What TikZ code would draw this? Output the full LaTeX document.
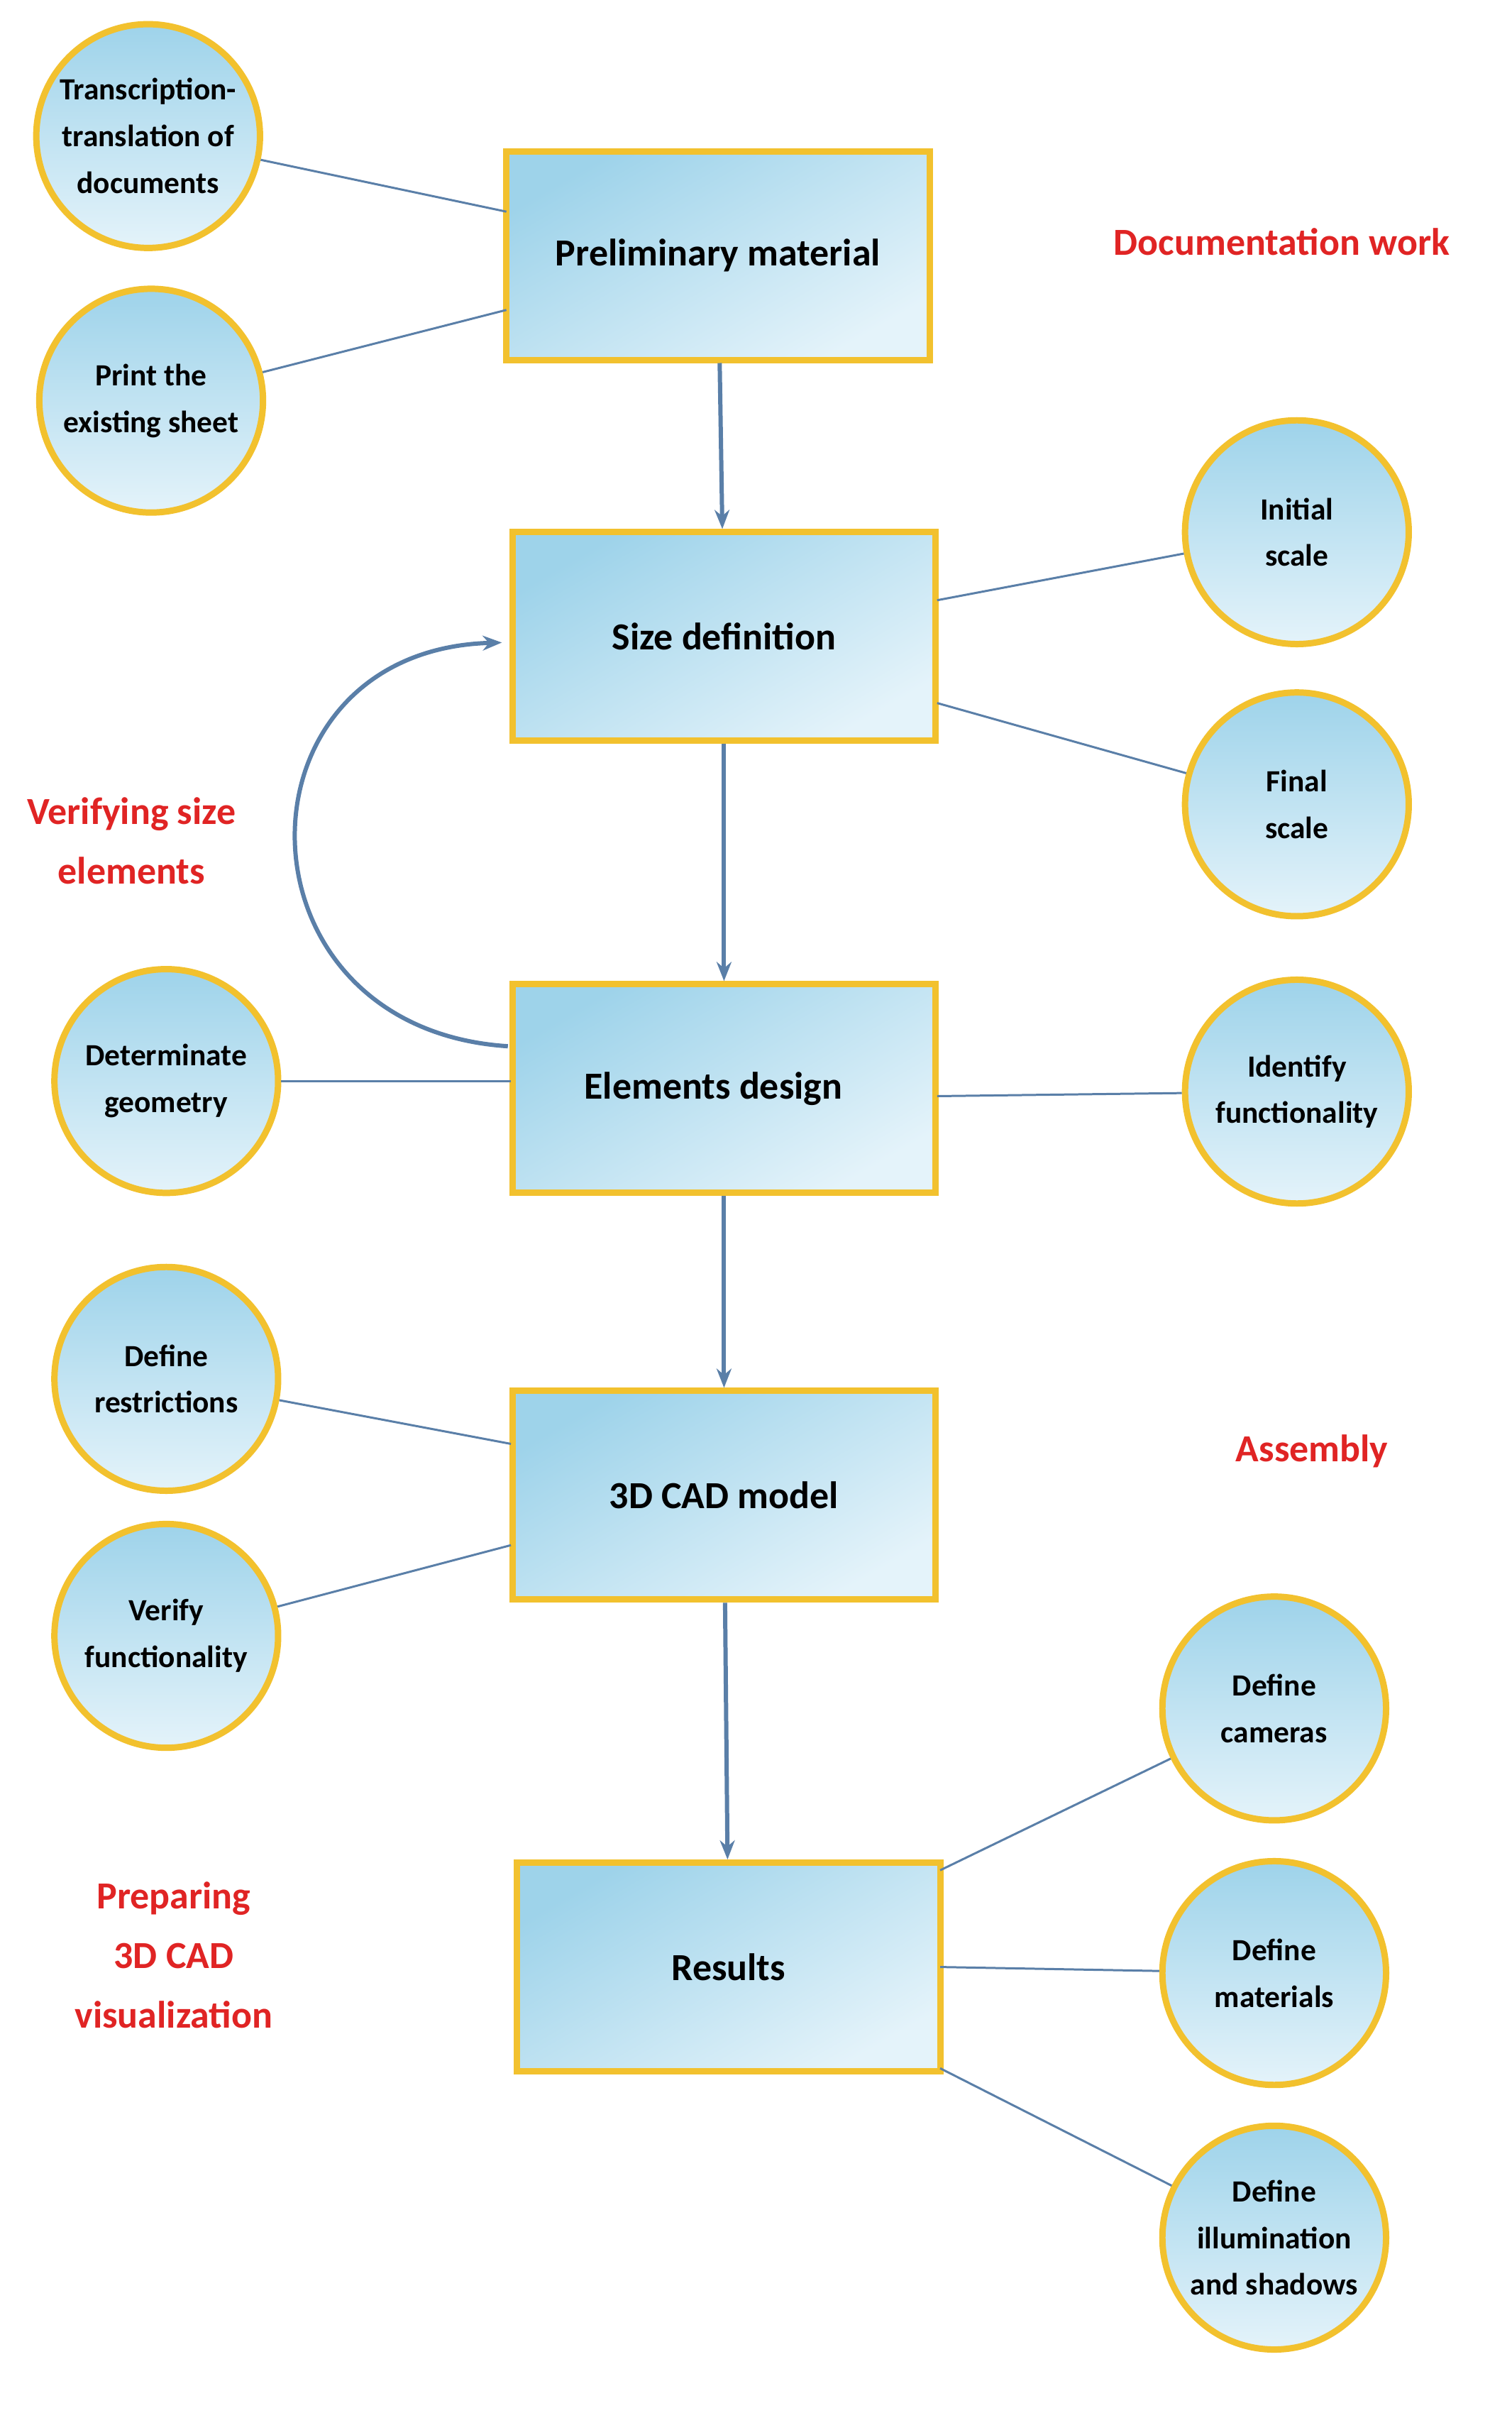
\documentclass[tikz,border=0pt]{standalone}
\usepackage{fontspec}
\setmainfont{Carlito}
\usetikzlibrary{arrows.meta}
\definecolor{bord}{HTML}{F2C12E}
\definecolor{blueA}{HTML}{9ED3EA}
\definecolor{blueB}{HTML}{E4F3FA}
\definecolor{lin}{HTML}{5A7FA8}
\definecolor{red}{HTML}{E02424}
\begin{document}
\begin{tikzpicture}[x=0.05cm,y=-0.05cm,
 box/.style={draw=bord,line width=6pt,top color=blueA,bottom color=blueB,shading angle=30,minimum width=280*0.05cm,minimum height=138*0.05cm,font=\bfseries\fontsize{36}{40}\selectfont,inner sep=0},
 circ/.style={circle,draw=bord,line width=6pt,top color=blueA,bottom color=blueB,minimum size=148*0.05cm,align=center,font=\bfseries\fontsize{29}{44}\selectfont,inner sep=0},
 lbl/.style={text=red,align=center,font=\bfseries\fontsize{36}{56}\selectfont},
 ln/.style={draw=lin,line width=2pt},
 arr/.style={draw=lin,line width=4pt,-{Stealth[length=18pt,width=14pt]}}]
\useasboundingbox (0,0) rectangle (1000,1596);
\node[box] (b1) at (475,169) {Preliminary material};
\node[box] (b2) at (479,421) {Size definition};
\node[box] (b3) at (479,720) {\hspace*{-20pt}Elements design};
\node[box] (b4) at (479,989) {3D CAD model};
\node[box] (b5) at (482,1301) {Results};
\node[circ] (c1) at (98,90) {Transcription-\\translation of\\documents};
\node[circ] (c2) at (100,265) {Print the\\existing sheet};
\node[circ] (c3) at (858,352) {Initial\\scale};
\node[circ] (c4) at (858,532) {Final\\scale};
\node[circ] (c5) at (110,715) {Determinate\\geometry};
\node[circ] (c6) at (858,722) {Identify\\functionality};
\node[circ] (c7) at (110,912) {Define\\restrictions};
\node[circ] (c8) at (110,1082) {Verify\\functionality};
\node[circ] (c9) at (843,1130) {Define\\cameras};
\node[circ] (c10) at (843,1305) {Define\\materials};
\node[circ] (c11) at (843,1480) {Define\\illumination\\and shadows};
\node[lbl] (l1) at (848,160) {Documentation work};
\node[lbl] (l2) at (87,556) {Verifying size\\elements};
\node[lbl] (l3) at (868,960) {Assembly};
\node[lbl] (l4) at (115,1293) {Preparing\\3D CAD\\visualization};
\coordinate (a1) at (335,140); \coordinate (a2) at (335,205);
\coordinate (a3) at (620,397); \coordinate (a4) at (620,465);
\coordinate (a5) at (338,715); \coordinate (a6) at (620,725);
\coordinate (a7) at (338,955); \coordinate (a8) at (338,1022);
\coordinate (a9) at (622,1237); \coordinate (a10) at (622,1301); \coordinate (a11) at (622,1368);
\draw[ln] (c1) -- (a1); \draw[ln] (c2) -- (a2);
\draw[ln] (c3) -- (a3); \draw[ln] (c4) -- (a4);
\draw[ln] (c5) -- (a5); \draw[ln] (c6) -- (a6);
\draw[ln] (c7) -- (a7); \draw[ln] (c8) -- (a8);
\draw[ln] (c9) -- (a9); \draw[ln] (c10) -- (a10); \draw[ln] (c11) -- (a11);
\draw[arr] (b1) -- (b2); \draw[arr] (b2) -- (b3); \draw[arr] (b3) -- (b4); \draw[arr] (b4) -- (b5);
\coordinate (s) at (336,692); \coordinate (e) at (332,425);
\draw[arr] (s) .. controls (150,680) and (150,430) .. (e);
\end{tikzpicture}
\end{document}
